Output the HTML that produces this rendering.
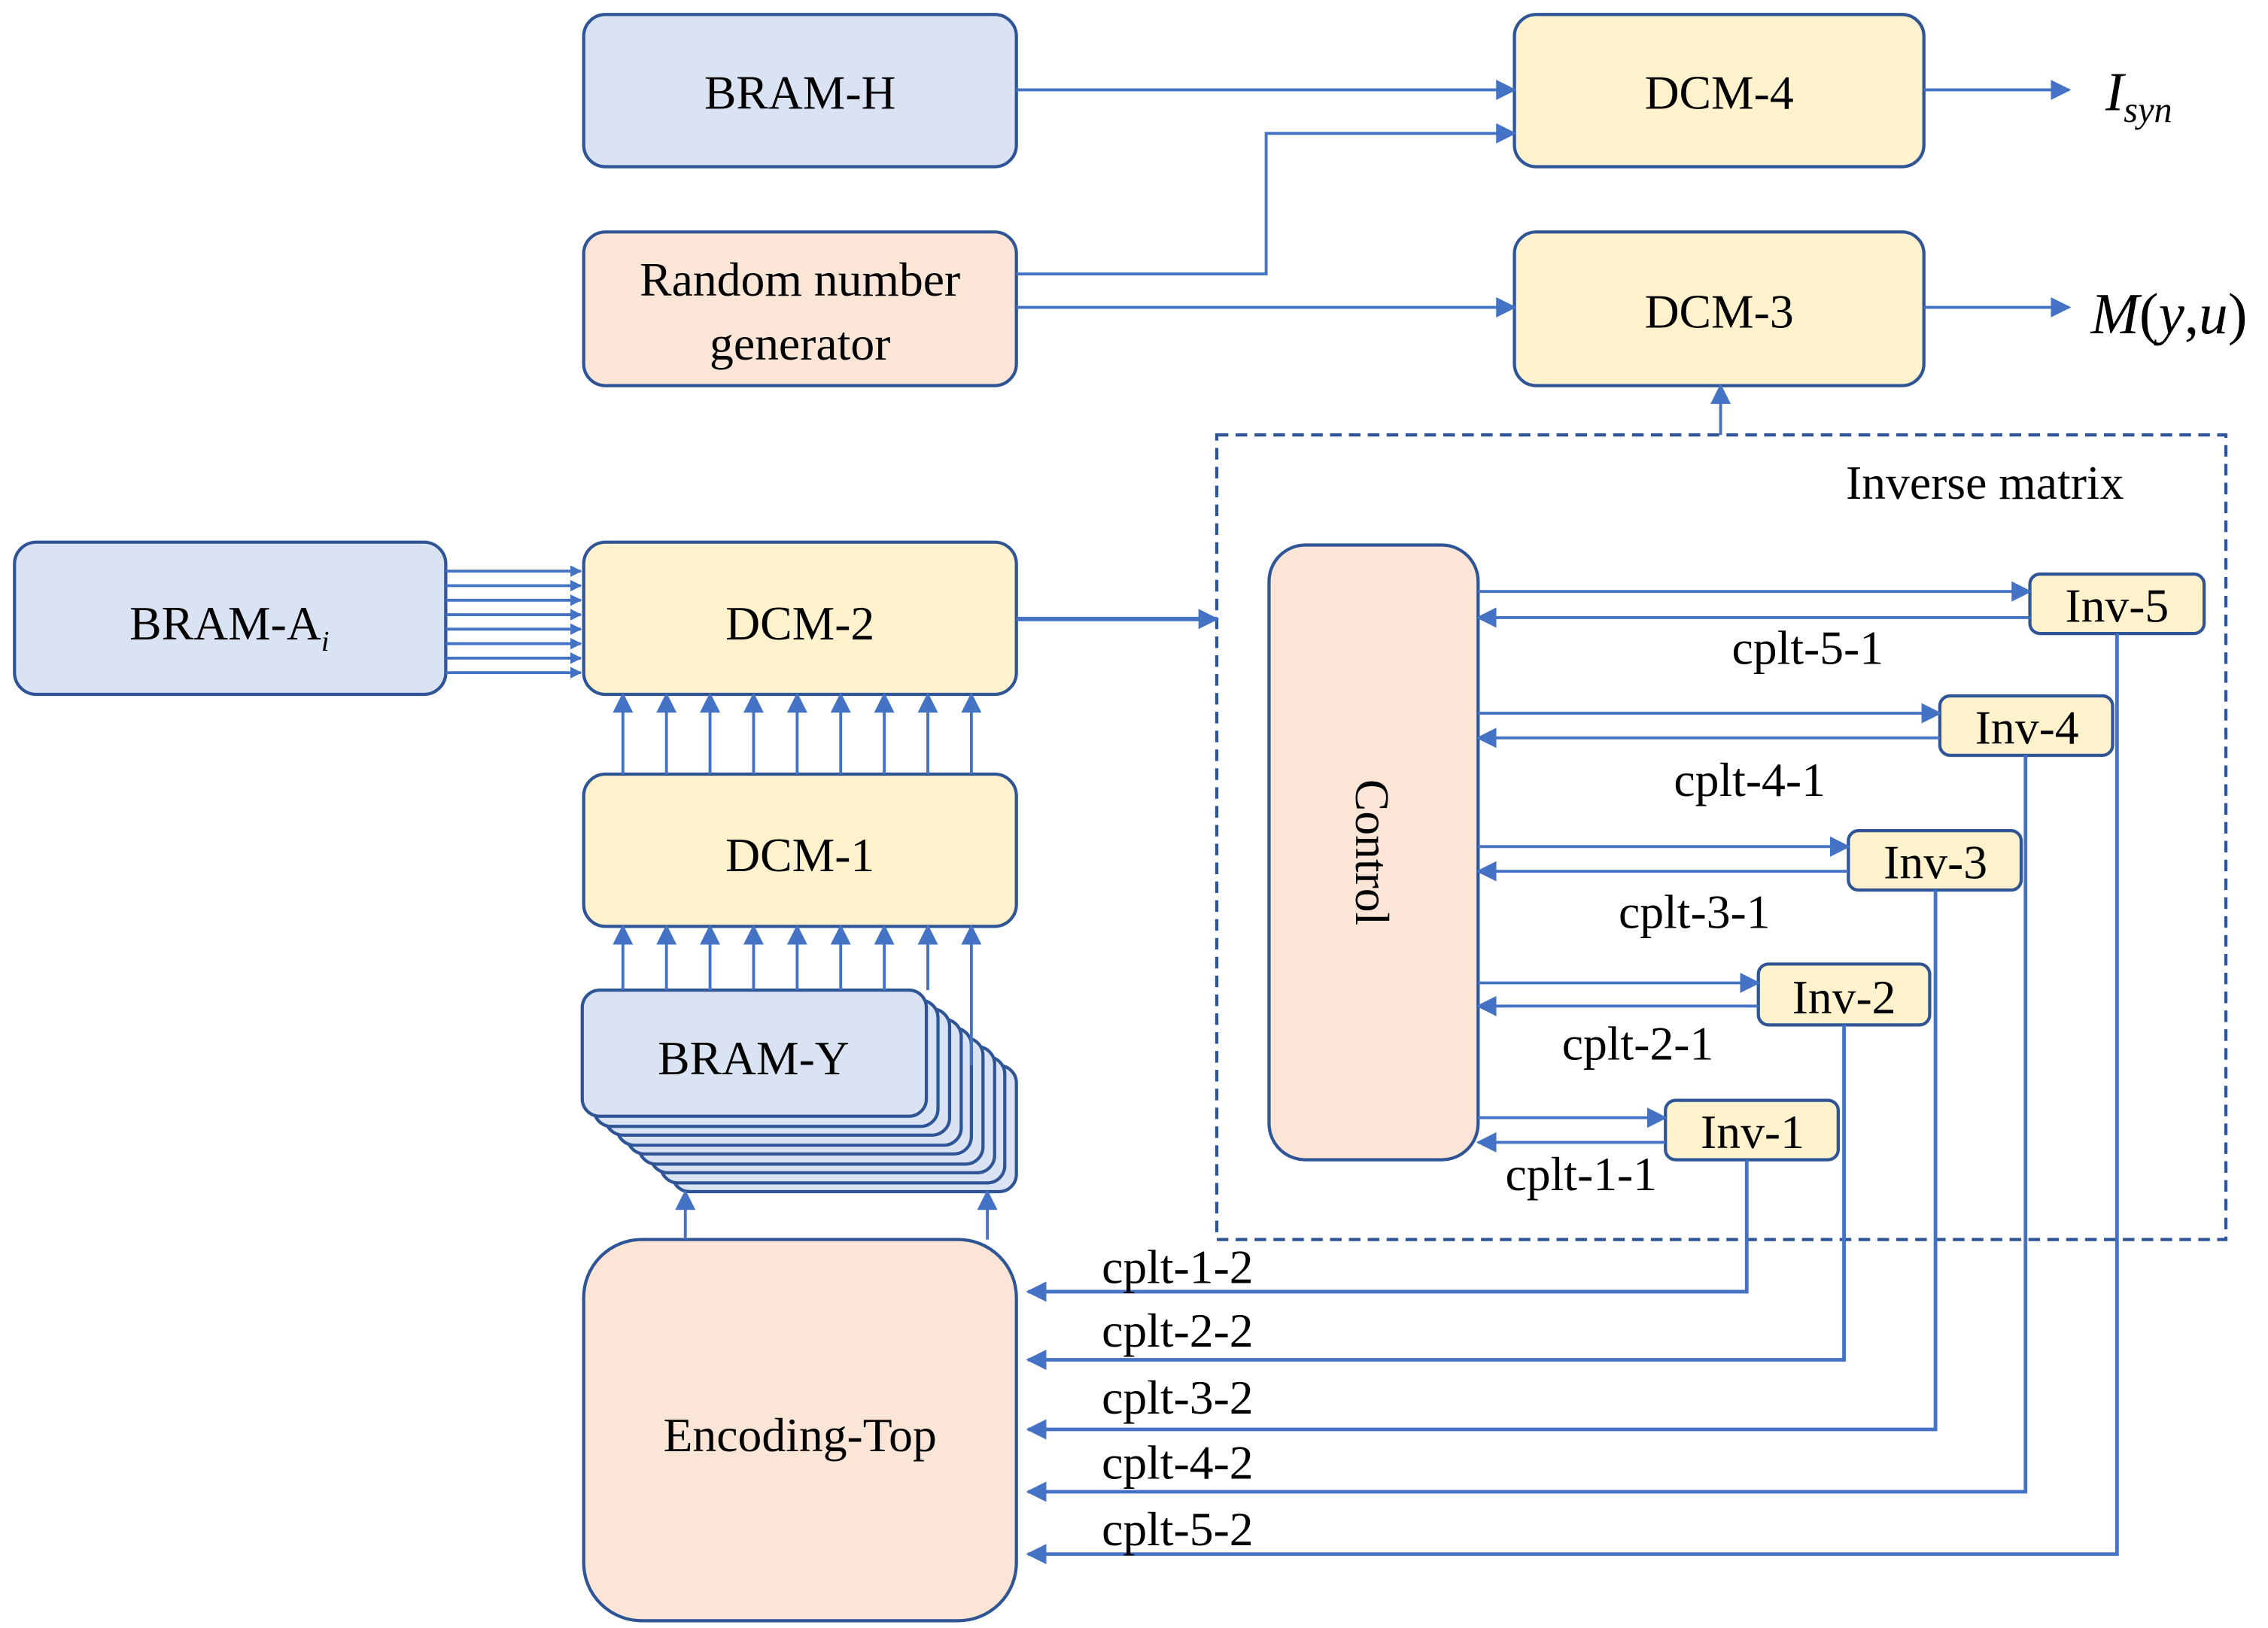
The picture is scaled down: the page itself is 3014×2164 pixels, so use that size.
<!DOCTYPE html>
<html><head><meta charset="utf-8"><style>html,body{margin:0;padding:0;background:#fff}svg{display:block}</style></head>
<body>
<svg width="3014" height="2164" viewBox="0 0 1562 1123" preserveAspectRatio="none" xmlns="http://www.w3.org/2000/svg" font-family="Liberation Serif, serif" font-size="33">
<defs>
<marker id="a" viewBox="0 0 10 10" refX="9" refY="5" markerWidth="8" markerHeight="8" orient="auto" markerUnits="userSpaceOnUse"><path d="M0,0L10,5L0,10z" fill="#4472c4"/></marker>
<marker id="b" viewBox="0 0 10 10" refX="9" refY="5" markerWidth="14" markerHeight="14" orient="auto" markerUnits="userSpaceOnUse"><path d="M0,0L10,5L0,10z" fill="#4472c4"/></marker>
</defs>
<g stroke="#2f5597" stroke-width="2.2">
<rect x="402" y="10" width="298" height="105" rx="15" fill="#dae3f3"/>
<rect x="1043" y="10" width="282" height="105" rx="15" fill="#fff2cc"/>
<rect x="402" y="160" width="298" height="106" rx="15" fill="#fbe5d6"/>
<rect x="1043" y="160" width="282" height="106" rx="15" fill="#fff2cc"/>
<rect x="10" y="374" width="297" height="105" rx="15" fill="#dae3f3"/>
<rect x="402" y="374" width="298" height="105" rx="15" fill="#fff2cc"/>
<rect x="402" y="534" width="298" height="105" rx="15" fill="#fff2cc"/>
<rect x="463" y="735" width="237" height="87" rx="12" fill="#dae3f3"/>
<rect x="455" y="729" width="237" height="87" rx="12" fill="#dae3f3"/>
<rect x="448" y="722" width="237" height="87" rx="12" fill="#dae3f3"/>
<rect x="440" y="716" width="237" height="87" rx="12" fill="#dae3f3"/>
<rect x="432" y="709" width="237" height="87" rx="12" fill="#dae3f3"/>
<rect x="425" y="703" width="237" height="87" rx="12" fill="#dae3f3"/>
<rect x="417" y="696" width="237" height="87" rx="12" fill="#dae3f3"/>
<rect x="409" y="690" width="237" height="87" rx="12" fill="#dae3f3"/>
<rect x="401" y="683" width="237" height="87" rx="12" fill="#dae3f3"/>
<rect x="402" y="855" width="298" height="263" rx="40" fill="#fbe5d6"/>
<rect x="874" y="376" width="144" height="424" rx="25" fill="#fbe5d6"/>
<rect x="1398" y="396" width="120" height="41" rx="7" fill="#fff2cc"/>
<rect x="1336" y="480" width="119" height="41" rx="7" fill="#fff2cc"/>
<rect x="1273" y="573" width="119" height="41" rx="7" fill="#fff2cc"/>
<rect x="1211" y="665" width="118" height="42" rx="7" fill="#fff2cc"/>
<rect x="1147" y="759" width="119" height="41" rx="7" fill="#fff2cc"/>
<rect x="838" y="300" width="695" height="555" fill="none" stroke-dasharray="8,5"/>
</g>
<g stroke="#4472c4" stroke-width="2" fill="none" marker-end="url(#b)">
<path d="M700,62H1043"/>
<path d="M700,189H872V92H1043"/>
<path d="M700,212H1043"/>
<path d="M1325,62H1425"/>
<path d="M1325,212H1425"/>
<path d="M1185,300V266"/>
<path d="M700,427H838" stroke-width="3"/>
<path d="M1018,408H1398"/><path d="M1398,426H1018"/>
<path d="M1018,492H1336"/><path d="M1336,509H1018"/>
<path d="M1018,584H1273"/><path d="M1273,601H1018"/>
<path d="M1018,678H1211"/><path d="M1211,694H1018"/>
<path d="M1018,771H1147"/><path d="M1147,788H1018"/>
<path d="M1203,800V891H708" stroke-width="2.5"/>
<path d="M1270,707V938H708" stroke-width="2.5"/>
<path d="M1333,614V986H708" stroke-width="2.5"/>
<path d="M1395,521V1029H708" stroke-width="2.5"/>
<path d="M1458,437V1072H708" stroke-width="2.5"/>
<path d="M472,855V822"/><path d="M680,855V822"/>
<path d="M429,534V479"/><path d="M459,534V479"/><path d="M489,534V479"/><path d="M519,534V479"/><path d="M549,534V479"/><path d="M579,534V479"/><path d="M609,534V479"/><path d="M639,534V479"/><path d="M669,534V479"/>
<path d="M429,683V639"/><path d="M459,683V639"/><path d="M489,683V639"/><path d="M519,683V639"/><path d="M549,683V639"/><path d="M579,683V639"/><path d="M609,683V639"/><path d="M639,683V639"/><path d="M669,735V639"/>
</g>
<g stroke="#4472c4" stroke-width="2" fill="none" marker-end="url(#a)">
<path d="M307,394H400"/><path d="M307,404H400"/><path d="M307,414H400"/><path d="M307,424H400"/><path d="M307,434H400"/><path d="M307,444H400"/><path d="M307,454H400"/><path d="M307,464H400"/>
</g>
<g fill="#000" text-anchor="middle">
<text x="551" y="75">BRAM-H</text>
<text x="1184" y="75">DCM-4</text>
<text x="551" y="204">Random number</text>
<text x="551" y="248">generator</text>
<text x="1184" y="226">DCM-3</text>
<text x="158" y="441">BRAM-A<tspan font-style="italic" font-size="20" dy="8">i</tspan></text>
<text x="551" y="441">DCM-2</text>
<text x="551" y="601">DCM-1</text>
<text x="519" y="741">BRAM-Y</text>
<text x="551" y="1001">Encoding-Top</text>
<text x="1367" y="344">Inverse matrix</text>
<text transform="translate(934,588) rotate(90)">Control</text>
<text x="1458" y="429">Inv-5</text>
<text x="1396" y="513">Inv-4</text>
<text x="1333" y="606">Inv-3</text>
<text x="1270" y="699">Inv-2</text>
<text x="1207" y="792">Inv-1</text>
<text x="1245" y="458">cplt-5-1</text>
<text x="1205" y="549">cplt-4-1</text>
<text x="1167" y="640">cplt-3-1</text>
<text x="1128" y="731">cplt-2-1</text>
<text x="1089" y="821">cplt-1-1</text>
<text x="811" y="885">cplt-1-2</text>
<text x="811" y="929">cplt-2-2</text>
<text x="811" y="975">cplt-3-2</text>
<text x="811" y="1020">cplt-4-2</text>
<text x="811" y="1066">cplt-5-2</text>
</g>
<text x="1450" y="76" font-style="italic" font-size="38">I<tspan font-size="25" dy="8">syn</tspan></text>
<text x="1440" y="230" font-style="italic" font-size="40">M<tspan font-style="normal">(</tspan>y<tspan font-style="normal">,</tspan>u<tspan font-style="normal">)</tspan></text>
</svg>
</body></html>
